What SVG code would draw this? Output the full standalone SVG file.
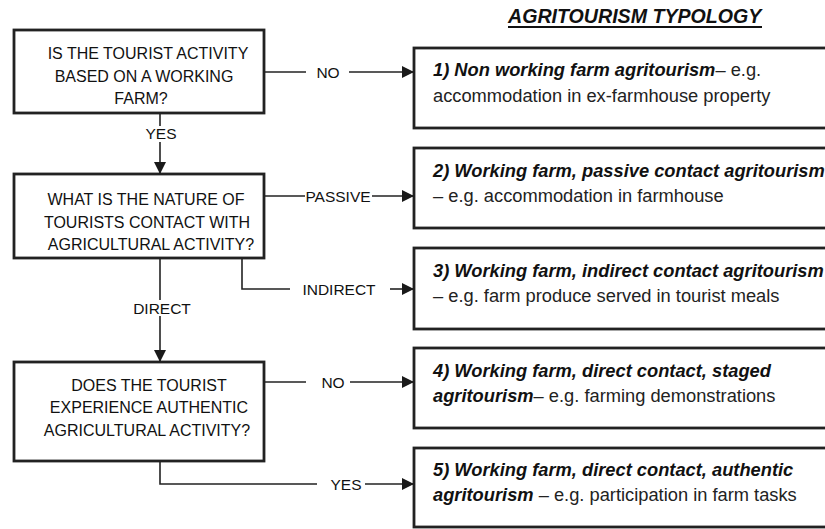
<svg xmlns="http://www.w3.org/2000/svg" width="825" height="529" viewBox="0 0 825 529">
<defs>
<marker id="arr" markerWidth="12" markerHeight="12" viewBox="0 0 12 12" refX="12" refY="6" orient="auto" markerUnits="userSpaceOnUse">
<path d="M0,0 L12,6 L0,12 Z" fill="#1a1a1a"/>
</marker>
<style>
.box{fill:#fff;stroke:#222;stroke-width:2.8}
.q{font-family:"Liberation Sans",Arial,sans-serif;font-size:16px;fill:#111;text-anchor:middle}
.lbl{font-family:"Liberation Sans",Arial,sans-serif;font-size:15.5px;fill:#111;text-anchor:middle}
.t{font-family:"Liberation Sans",Arial,sans-serif;font-size:18.3px;fill:#222}
.b{font-weight:bold;font-style:italic;fill:#111}
.ln{fill:none;stroke:#222;stroke-width:1.6}
.title{font-family:"Liberation Sans",Arial,sans-serif;font-size:19.6px;font-weight:bold;font-style:italic;fill:#111}
</style>
</defs>
<rect width="825" height="529" fill="#fff"/>
<g id="title">
<text class="title" x="508" y="23">AGRITOURISM TYPOLOGY</text>
<rect x="508" y="26" width="254" height="2" fill="#111"/>
</g>
<g id="q1">
<rect class="box" x="14" y="30" width="250" height="83"/>
<text class="q" x="148" y="59">IS THE TOURIST ACTIVITY</text>
<text class="q" x="144" y="82">BASED ON A WORKING</text>
<text class="q" x="141" y="104">FARM?</text>
</g>
<g id="q2">
<rect class="box" x="14" y="174" width="250" height="84"/>
<text class="q" x="146" y="205">WHAT IS THE NATURE OF</text>
<text class="q" x="147" y="228">TOURISTS CONTACT WITH</text>
<text class="q" x="151" y="250">AGRICULTURAL ACTIVITY?</text>
</g>
<g id="q3">
<rect class="box" x="14" y="362" width="250" height="99"/>
<text class="q" x="149" y="391">DOES THE TOURIST</text>
<text class="q" x="149" y="413">EXPERIENCE AUTHENTIC</text>
<text class="q" x="147" y="436">AGRICULTURAL ACTIVITY?</text>
</g>
<g id="t1">
<rect class="box" x="414" y="48" width="420" height="80"/>
<text class="t" x="433" y="76"><tspan class="b">1) Non working farm agritourism</tspan>– e.g.</text>
<text class="t" x="433" y="102">accommodation in ex-farmhouse property</text>
</g>
<g id="t2">
<rect class="box" x="414" y="148" width="420" height="80"/>
<text class="t" x="433" y="177"><tspan class="b">2) Working farm, passive contact agritourism</tspan></text>
<text class="t" x="433" y="202">– e.g. accommodation in farmhouse</text>
</g>
<g id="t3">
<rect class="box" x="414" y="248" width="420" height="81"/>
<text class="t" x="433" y="277"><tspan class="b">3) Working farm, indirect contact agritourism</tspan></text>
<text class="t" x="433" y="302">– e.g. farm produce served in tourist meals</text>
</g>
<g id="t4">
<rect class="box" x="414" y="348" width="420" height="80"/>
<text class="t" x="433" y="377"><tspan class="b">4) Working farm, direct contact, staged</tspan></text>
<text class="t" x="433" y="402"><tspan class="b">agritourism</tspan>– e.g. farming demonstrations</text>
</g>
<g id="t5">
<rect class="box" x="414" y="448" width="420" height="79"/>
<text class="t" x="433" y="476"><tspan class="b">5) Working farm, direct contact, authentic</tspan></text>
<text class="t" x="433" y="501"><tspan class="b">agritourism</tspan> – e.g. participation in farm tasks</text>
</g>
<g id="connectors">
<path class="ln" d="M264,72 H306"/>
<path class="ln" d="M349,72 H414" marker-end="url(#arr)"/>
<text class="lbl" x="328" y="77.5">NO</text>
<path class="ln" d="M160,113 V126"/>
<path class="ln" d="M160,142 V174" marker-end="url(#arr)"/>
<text class="lbl" x="161" y="138.5">YES</text>
<path class="ln" d="M264,196 H305"/>
<path class="ln" d="M372,196 H414" marker-end="url(#arr)"/>
<text class="lbl" x="338" y="201.5">PASSIVE</text>
<path class="ln" d="M242,258 V289 H290"/>
<path class="ln" d="M390,289 H414" marker-end="url(#arr)"/>
<text class="lbl" x="339" y="294.5">INDIRECT</text>
<path class="ln" d="M160,258 V300"/>
<path class="ln" d="M160,316 V362" marker-end="url(#arr)"/>
<text class="lbl" x="162" y="313.5">DIRECT</text>
<path class="ln" d="M264,382 H306"/>
<path class="ln" d="M350,382 H414" marker-end="url(#arr)"/>
<text class="lbl" x="333" y="387.5">NO</text>
<path class="ln" d="M160,461 V484 H317"/>
<path class="ln" d="M365,484 H414" marker-end="url(#arr)"/>
<text class="lbl" x="346" y="489.5">YES</text>
</g>
</svg>
